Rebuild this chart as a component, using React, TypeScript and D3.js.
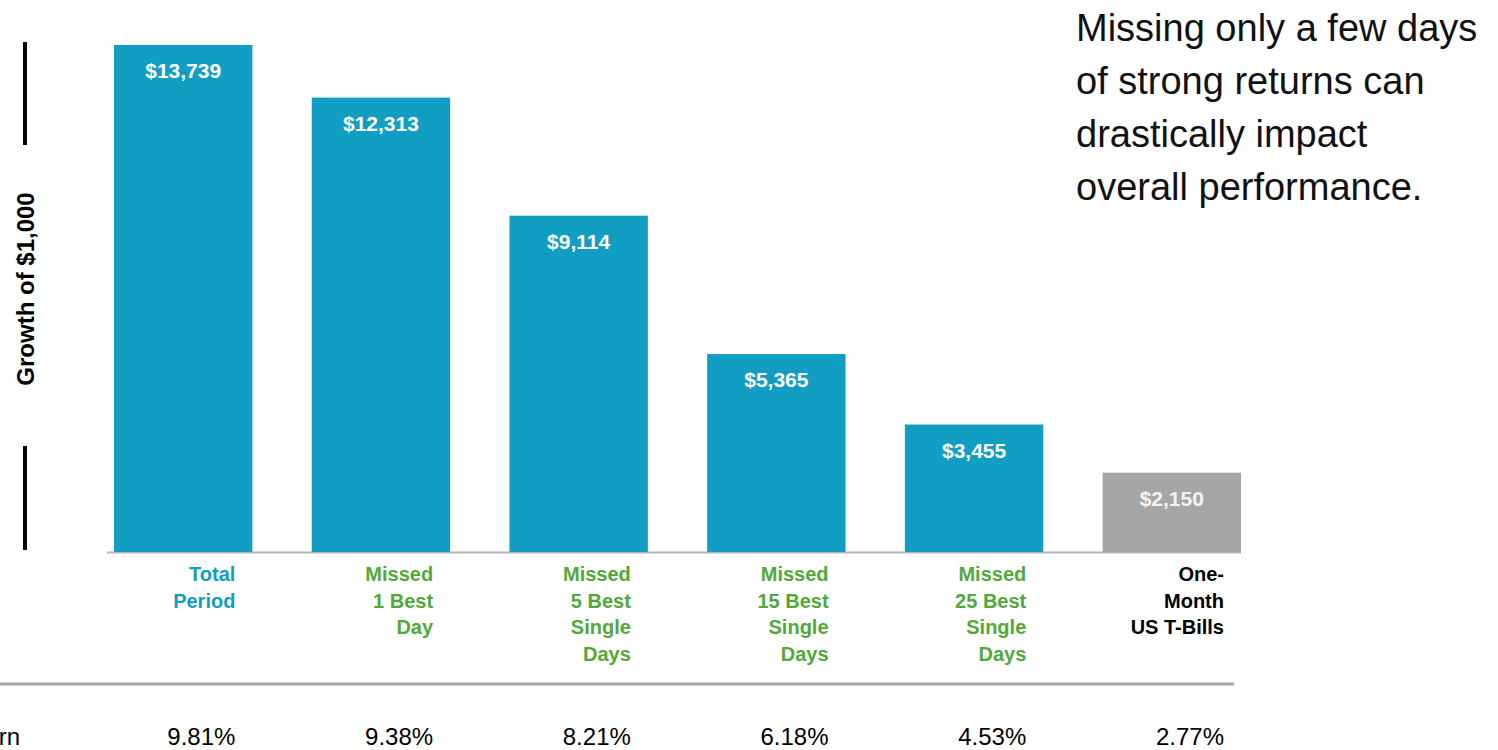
import * as d3 from "d3";
import { useEffect } from "react";

const categories = [
  ["Total", "Period"],
  ["Missed", "1 Best", "Day"],
  ["Missed", "5 Best", "Single", "Days"],
  ["Missed", "15 Best", "Single", "Days"],
  ["Missed", "25 Best", "Single", "Days"],
  ["One-", "Month", "US T-Bills"],
];
const values = [13739, 12313, 9114, 5365, 3455, 2150];
const annualReturns = [9.81, 9.38, 8.21, 6.18, 4.53, 2.77];
const barKinds = ["total", "missed", "missed", "missed", "missed", "tbill"];
const note = [
  "Missing only a few days",
  "of strong returns can",
  "drastically impact",
  "overall performance.",
];

const TEAL = "#129dc2";
const GREEN = "#52a83a";
const GRAY = "#a6a6a6";

const barColor = { total: TEAL, missed: TEAL, tbill: GRAY };
const labelColor = { total: TEAL, missed: GREEN, tbill: "#000" };

export default function App() {
  useEffect(() => {
    document.body.style.margin = "0";
  }, []);

  const width = 1498;
  const height = 750;
  const font = "'Liberation Sans', Arial, Helvetica, sans-serif";

  const x = d3
    .scaleBand<number>()
    .domain(d3.range(values.length))
    .range([114, 1241])
    .paddingInner(0.3)
    .paddingOuter(0);

  const y = d3.scaleLinear().domain([0, d3.max(values)!]).range([552, 45]);

  const money = d3.format("$,");
  const pct = (v: number) => d3.format(".2f")(v) + "%";

  return (
    <svg
      width={width}
      height={height}
      style={{ display: "block", fontFamily: font, background: "#fff" }}
    >
      {/* y label with bracket lines */}
      <line x1={25} x2={25} y1={y.range()[1] - 3} y2={145} stroke="#000" strokeWidth={4} />
      <line x1={25} x2={25} y1={446} y2={y(0) - 2} stroke="#000" strokeWidth={4} />
      <text
        transform="translate(34,289) rotate(-90)"
        textAnchor="middle"
        fontWeight="bold"
        fontSize={24}
        fill="#000"
      >
        Growth of $1,000
      </text>

      {/* baseline */}
      <line
        x1={107}
        x2={x.range()[1]}
        y1={y(0) + 0.5}
        y2={y(0) + 0.5}
        stroke="#b5b5b5"
        strokeWidth={2}
      />

      {values.map((v, i) => {
        const kind = barKinds[i];
        const bx = x(i)!;
        const bw = x.bandwidth();
        return (
          <g key={i}>
            <rect x={bx} y={y(v)} width={bw} height={y(0) - y(v)} fill={barColor[kind]} />
            <text
              x={bx + bw / 2}
              y={y(v) + 33}
              textAnchor="middle"
              fontWeight="bold"
              fontSize={21}
              fill={kind === "tbill" ? "#f4f4f4" : "#fff"}
            >
              {money(v)}
            </text>
            <text
              x={bx + bw - 17}
              y={581}
              textAnchor="end"
              fontWeight="bold"
              fontSize={20}
              fill={labelColor[kind]}
            >
              {categories[i].map((line, j) => (
                <tspan key={j} x={bx + bw - 17} dy={j === 0 ? 0 : 26.5}>
                  {line}
                </tspan>
              ))}
            </text>
            <text
              x={bx + bw - 17}
              y={745}
              textAnchor="end"
              fontSize={24}
              fill="#000"
            >
              {pct(annualReturns[i])}
            </text>
          </g>
        );
      })}

      {/* table separator */}
      <line x1={0} x2={1234} y1={684} y2={684} stroke="#a6a6a6" strokeWidth={3} />
      <text x={20} y={745} textAnchor="end" fontSize={24} fill="#000">
        Annualized Return
      </text>

      {/* note */}
      <text x={1076} y={41} fontSize={38} fill="#111">
        {note.map((line, j) => (
          <tspan key={j} x={1076} dy={j === 0 ? 0 : 53}>
            {line}
          </tspan>
        ))}
      </text>
    </svg>
  );
}
